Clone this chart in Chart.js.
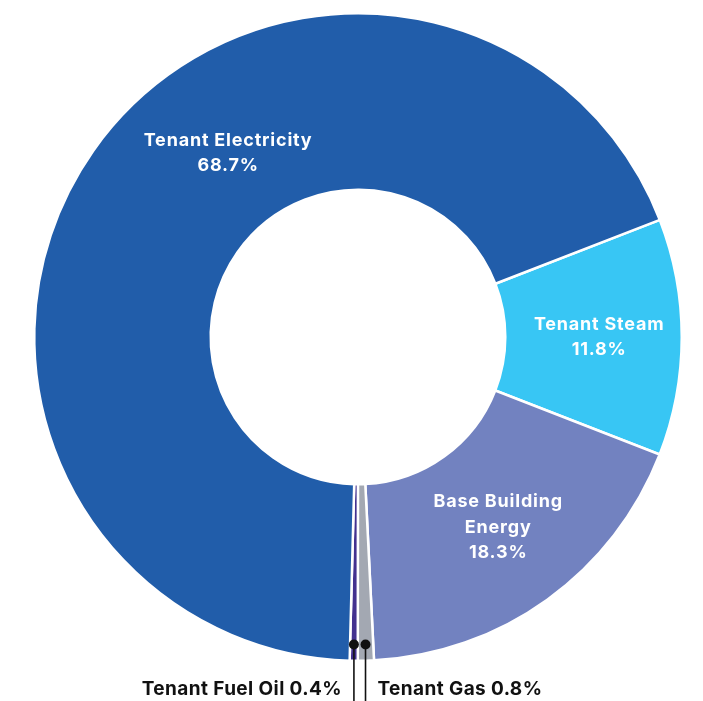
<!DOCTYPE html>
<html>
<head>
<meta charset="utf-8">
<script src="https://cdn.jsdelivr.net/npm/chart.js@4.4.0/dist/chart.umd.min.js"></script>
<style>
    html, body { margin: 0; padding: 0; background: #fff; }
    #wrap { width: 703px; height: 701px; }
</style>
</head>
<body>
<div id="wrap"><canvas id="donutChart"></canvas></div>
<script>
// --- 데이터 ---
const categories = ['Tenant Steam', 'Base Building Energy', 'Tenant Gas', 'Tenant Fuel Oil', 'Tenant Electricity'];
const shares = [11.8, 18.3, 0.8, 0.4, 68.7];
const sliceColors = ['#38C6F4', '#7282C0', '#A3A8B2', '#43318F', '#215DAA'];
// 라벨 줄바꿈 (inside = 조각 안, null = 아래쪽 callout)
const labelLines = [['Tenant Steam'], ['Base Building', 'Energy'], null, null, ['Tenant Electricity']];
const calloutSide = [null, null, 'right', 'left', null];

// 라벨 위치 조정 (각도 보정, 반지름 비율)
const labelPlacement = [
    { shift: 0, r: 0.745 },
    { shift: -0.6, r: 0.73 },
    null,
    null,
    { shift: 19.6, r: 0.695 }
];

const sliceLabels = {
    id: 'sliceLabels',
    afterDraw(chart) {
        const ctx = chart.ctx;
        const meta = chart.getDatasetMeta(0);
        const H = chart.height;
        ctx.save();
        meta.data.forEach((arc, i) => {
            const { x, y, startAngle, endAngle, outerRadius } = arc.getProps(['x', 'y', 'startAngle', 'endAngle', 'outerRadius'], true);
            const mid = (startAngle + endAngle) / 2;
            const pct = shares[i].toFixed(1) + '%';
            if (labelLines[i]) {
                const p = labelPlacement[i];
                const a = mid + p.shift * Math.PI / 180;
                const cx = x + Math.cos(a) * outerRadius * p.r;
                const cy = y + Math.sin(a) * outerRadius * p.r;
                const lines = labelLines[i].concat([pct]);
                const lh = 25.5;
                ctx.fillStyle = '#ffffff';
                ctx.font = 'bold 18px Inter, "Noto Sans", sans-serif';
                ctx.letterSpacing = '0.8px';
                ctx.textAlign = 'center';
                ctx.textBaseline = 'middle';
                lines.forEach((t, k) => {
                    ctx.fillText(t, cx, cy + (k - (lines.length - 1) / 2) * lh);
                });
            } else {
                const dx = x + Math.cos(mid) * outerRadius * 0.95;
                const dy = y + Math.sin(mid) * outerRadius * 0.95;
                ctx.strokeStyle = '#111111';
                ctx.lineWidth = 1.6;
                ctx.beginPath();
                ctx.moveTo(dx, dy);
                ctx.lineTo(dx, H);
                ctx.stroke();
                ctx.fillStyle = '#111111';
                ctx.beginPath();
                ctx.arc(dx, dy, 5, 0, Math.PI * 2);
                ctx.fill();
                ctx.font = 'bold 19px Inter, "Noto Sans", sans-serif';
                ctx.letterSpacing = '0.4px';
                ctx.textBaseline = 'middle';
                const text = categories[i] + ' ' + pct;
                if (calloutSide[i] === 'left') {
                    ctx.textAlign = 'right';
                    ctx.fillText(text, dx - 12, H - 12);
                } else {
                    ctx.textAlign = 'left';
                    ctx.fillText(text, dx + 12, H - 12);
                }
            }
        });
        ctx.restore();
    }
};

const ctx = document.getElementById('donutChart').getContext('2d');
new Chart(ctx, {
    type: 'doughnut',
    data: {
        labels: categories,
        datasets: [{
            data: shares,
            backgroundColor: sliceColors,
            borderColor: '#ffffff',
            borderWidth: 2.5
        }]
    },
    options: {
        responsive: true,
        maintainAspectRatio: false,
        animation: false,
        rotation: 68.8,
        cutout: '45.5%',
        layout: { padding: { left: 33, right: 20, top: 12, bottom: 39 } },
        plugins: {
            legend: { display: false },
            tooltip: { enabled: false }
        }
    },
    plugins: [sliceLabels]
});
</script>
</body>
</html>
